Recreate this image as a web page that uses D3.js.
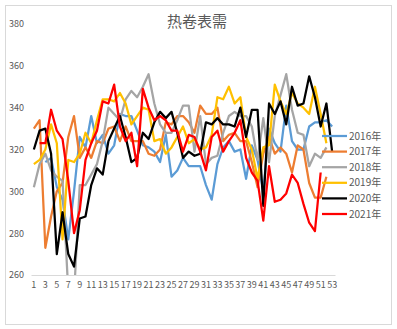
<!DOCTYPE html>
<html>
<head>
<meta charset="utf-8">
<script src="https://cdn.jsdelivr.net/npm/d3@7/dist/d3.min.js"></script>
<style>
  html, body { margin: 0; padding: 0; background: #fff; }
  svg { display: block; }
  text { font-family: "Noto Sans CJK SC", "DejaVu Sans", sans-serif; fill: #595959; }
</style>
</head>
<body>
<svg id="chart" width="397" height="329"></svg>
<script>
// Weekly hot-rolled coil apparent demand, one series per year
const weeks = d3.range(1, 54);
const xTickLabels = weeks.filter(w => w % 2 === 1);
const yTicks = [260, 280, 300, 320, 340, 360, 380];
const years = ["2016年", "2017年", "2018年", "2019年", "2020年", "2021年"];
const colors = ["#5B9BD5", "#ED7D31", "#A5A5A5", "#FFC000", "#000000", "#FF0000"];

const s2016 = [null, null, 314, 316, 302, 296, 277, 300, 326, 321, 336, 323, 327, 318, 322, 337, 336, 336, 329, 322,
  321, 319, 314, 327, 307, 310, 316, 312, 312, 312, 303, 296, 313, 321, 324, 319, 320, 306, 322, 315,
  300, 330, 323, 319, 341, 324, 320, 320, 331, 333, 333, 334, 331];
const s2017 = [330, 334, 273, 288, 300, 304, 326, 336, 316, 321, 316, 324, 323, 330, 331, 324, 331, 324, 324, 324,
  318, 317, 320, 333, 332, 336, 336, 333, 328, 341, 337, 337, 340, 324, 327, 328, 324, 324, 314, 302,
  318, 326, 318, 321, 318, 309, 322, 320, 304, 297, 297, 307];
const s2018 = [302, 313, 318, 310, 307, 305, 252, 250, 303, 303, 308, 313, 324, 340, 337, 334, 344, 348, 345, 350,
  356, 342, 332, 328, 328, 334, 341, 341, 319, 336, 313, 316, 317, 328, 336, 338, 336, 336, 331, 315,
  335, 314, 336, 346, 356, 339, 328, 327, 312, 318, 316, 321];
const s2019 = [313, 315, 320, 332, 323, 277, 315, 314, 318, 328, 323, 334, 344, 344, 343, 347, 342, 332, 336, 340,
  339, 324, 325, 318, 321, 326, 331, 323, 325, 320, 321, 327, 345, 344, 350, 342, 345, 326, 320, 306,
  321, 322, 351, 343, 337, 347, 342, 340, 337, 350, 337, 323];
const s2020 = [320, 329, 330, 318, 270, 290, 270, 264, 287, 288, 303, 311, 308, 324, 330, 336, 326, 314, 316, 328,
  325, 333, 338, 335, 338, 328, 316, 319, 317, 318, 333, 332, 335, 332, 332, 331, 340, 326, 339, 339,
  293, 342, 337, 343, 332, 350, 341, 342, 355, 345, 331, 342, 319];
const s2021 = [null, 323, 323, 339, 329, 325, 305, 280, 291, 315, 323, 329, 343, 342, 351, 331, 324, 328, 312, 349,
  340, 334, 336, 334, 329, 329, 319, 327, 326, 319, 310, 326, 329, 319, 324, 328, 334, 316, 309, 305,
  286, 312, 295, 296, 299, 308, 304, 294, 285, 281, 309];
const seriesValues = [s2016, s2017, s2018, s2019, s2020, s2021];

const svg = d3.select("#chart");
const plot = { left: 31, right: 335, top: 24, bottom: 275 };

// outer chart frame
svg.append("rect")
  .attr("x", 5.5).attr("y", 5.5)
  .attr("width", 386).attr("height", 319)
  .attr("fill", "#fff").attr("stroke", "#d9d9d9");

svg.append("text")
  .attr("x", 197).attr("y", 27)
  .attr("text-anchor", "middle")
  .attr("font-size", 15)
  .text("热卷表需");

const x = d3.scaleBand().domain(weeks).range([plot.left, plot.right]).padding(0);
const y = d3.scaleLinear().domain([260, 380]).range([plot.bottom, plot.top]);
const cx = w => x(w) + x.bandwidth() / 2;

// y axis labels, no axis line
const yAxis = svg.append("g")
  .attr("transform", `translate(${plot.left},0)`)
  .call(d3.axisLeft(y).tickValues(yTicks).tickSize(0).tickPadding(7));
yAxis.select(".domain").remove();
yAxis.selectAll("text").attr("font-size", 9).attr("fill", "#595959")
  .style("font-family", "'Noto Sans CJK SC', sans-serif");

// category axis along the bottom
const xAxis = svg.append("g")
  .attr("transform", `translate(0,${plot.bottom})`)
  .call(d3.axisBottom(x).tickValues(xTickLabels).tickSize(0).tickPadding(7));
xAxis.select(".domain").attr("stroke", "#d9d9d9").attr("stroke-width", 1);
xAxis.selectAll("text").attr("font-size", 9).attr("fill", "#595959")
  .style("font-family", "'Noto Sans CJK SC', sans-serif");

svg.append("clipPath").attr("id", "plot-clip")
  .append("rect")
  .attr("x", plot.left).attr("y", plot.top)
  .attr("width", plot.right - plot.left).attr("height", plot.bottom - plot.top);

const line = d3.line()
  .defined(d => d.v !== null)
  .x(d => cx(d.w))
  .y(d => y(d.v));

const lines = svg.append("g").attr("clip-path", "url(#plot-clip)");
seriesValues.forEach((vals, i) => {
  const pts = vals.map((v, j) => ({ w: weeks[j], v }));
  lines.append("path")
    .datum(pts)
    .attr("fill", "none")
    .attr("stroke", colors[i])
    .attr("stroke-width", 2.25)
    .attr("stroke-linejoin", "round")
    .attr("d", line);
});

// legend
const legend = svg.append("g");
years.forEach((name, i) => {
  const ly = 136 + i * 15.6;
  legend.append("line")
    .attr("x1", 322).attr("x2", 347)
    .attr("y1", ly).attr("y2", ly)
    .attr("stroke", colors[i]).attr("stroke-width", 2.25);
  legend.append("text")
    .attr("x", 349).attr("y", ly)
    .attr("dy", "0.35em")
    .attr("font-size", 10)
    .text(name);
});
</script>
</body>
</html>
